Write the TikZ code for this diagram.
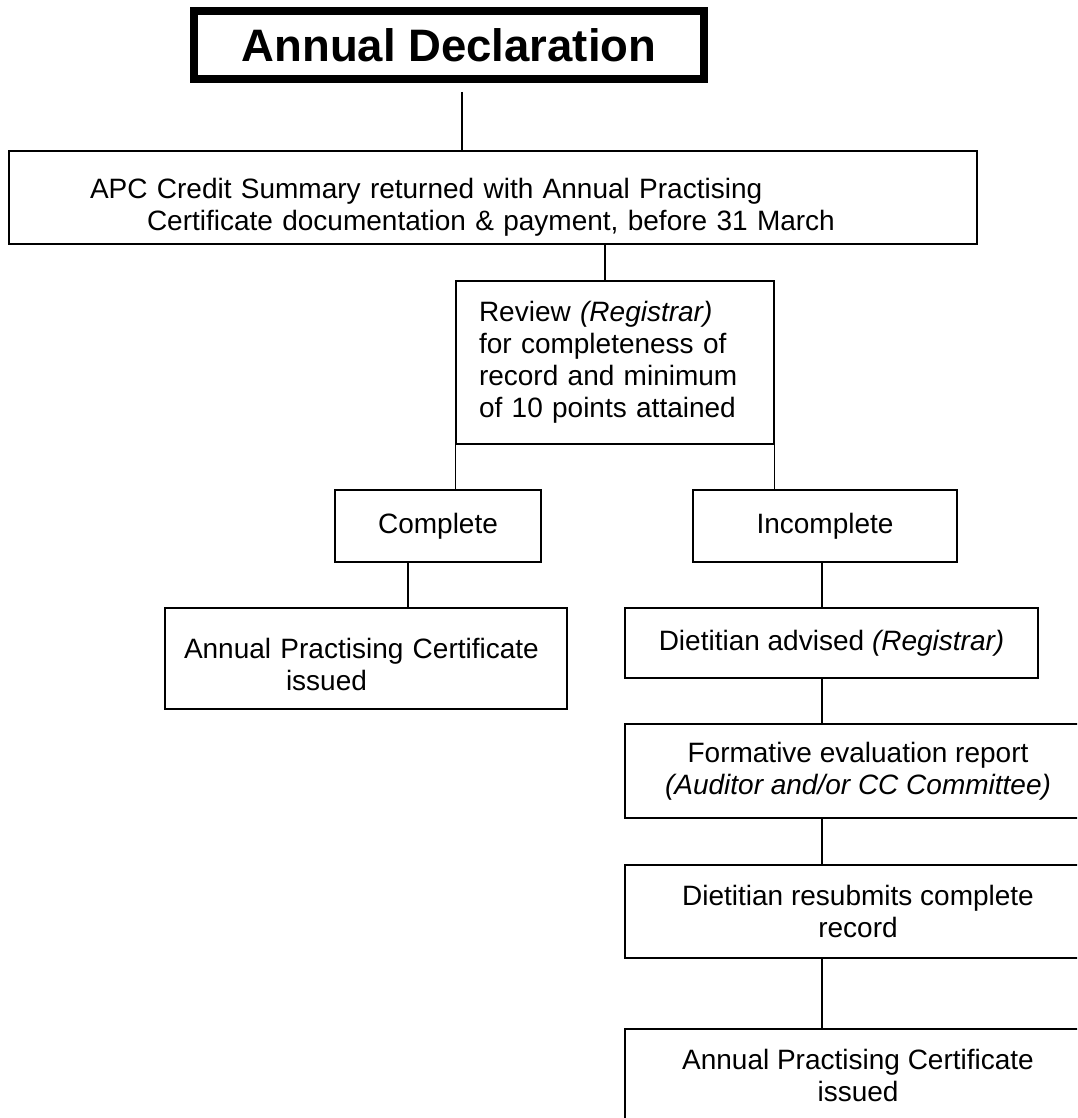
\documentclass[tikz,border=0pt]{standalone}
\usepackage{fontspec}
\setmainfont{Liberation Sans}
\usetikzlibrary{calc}
\tikzset{
  box/.style={draw, line width=1.4pt, rectangle, inner ysep=0pt, font=\fontsize{28}{32}\selectfont},
  conn/.style={line width=1.4pt},
}
\begin{document}
\begin{tikzpicture}[x=1pt,y=-1pt]
\useasboundingbox (0,0) rectangle (1077,1118);
\clip (0,0) rectangle (1077,1118);
% title
\node[draw, line width=8pt, minimum width=510pt, minimum height=68pt, inner sep=0pt,
      font=\bfseries\fontsize{45.5}{50}\selectfont] (title) at (449,45) {Annual Declaration};
% APC box
\node[box, minimum width=968pt, minimum height=93pt, inner xsep=81pt, text width=806pt, align=left] (apc) at (493,197.5)
  {\rule{0pt}{40pt}APC Credit Summary returned with Annual Practising\\\hspace*{57pt}Certificate documentation \& payment, before 31 March};
% Review
\node[box, minimum width=318pt, minimum height=163pt, inner xsep=23pt, text width=272pt, align=left] (review) at (615,362.5)
  {Review \textit{(Registrar)}\\for completeness of\\record and minimum\\of 10 points attained};
% Complete / Incomplete
\node[box, minimum width=206pt, minimum height=72pt] (complete) at (438,526) {Complete};
\node[box, minimum width=264pt, minimum height=72pt] (incomplete) at (825,526) {Incomplete};
% left issued
\node[box, minimum width=402pt, minimum height=101pt, inner xsep=19pt, text width=364pt, align=left] (issuedA) at (366,658.5)
  {\rule{0pt}{33pt}Annual Practising Certificate\\\hspace*{102pt}issued};
% right column
\node[box, minimum width=413pt, minimum height=70pt] (advised) at (831.5,643) {Dietitian advised \textit{(Registrar)}};
\node[box, minimum width=466pt, minimum height=94pt, align=center] (formative) at (858,771)
  {Formative evaluation report\\\textit{(Auditor and/or CC Committee)}};
\node[box, minimum width=466pt, minimum height=93pt, align=center] (resubmit) at (858,911.5)
  {Dietitian resubmits complete\\record};
\node[box, minimum width=466pt, minimum height=92pt, align=center] (issuedB) at (858,1075)
  {Annual Practising Certificate\\issued};
% connectors
\coordinate (t1) at (462,92);
\draw[conn] (t1) -- (t1 |- apc.north);
\coordinate (t2) at (605,244);
\draw[conn] (t2 |- apc.south) -- (t2 |- review.north);
\draw[conn] (review.south west) -- (review.south west |- complete.north);
\draw[conn] (review.south east) -- (review.south east |- incomplete.north);
\coordinate (t3) at (408,562);
\draw[conn] (t3 |- complete.south) -- (t3 |- issuedA.north);
\coordinate (t4) at (822,600);
\draw[conn] (t4 |- incomplete.south) -- (t4 |- advised.north);
\draw[conn] (t4 |- advised.south) -- (t4 |- formative.north);
\draw[conn] (t4 |- formative.south) -- (t4 |- resubmit.north);
\draw[conn] (t4 |- resubmit.south) -- (t4 |- issuedB.north);
\end{tikzpicture}
\end{document}
